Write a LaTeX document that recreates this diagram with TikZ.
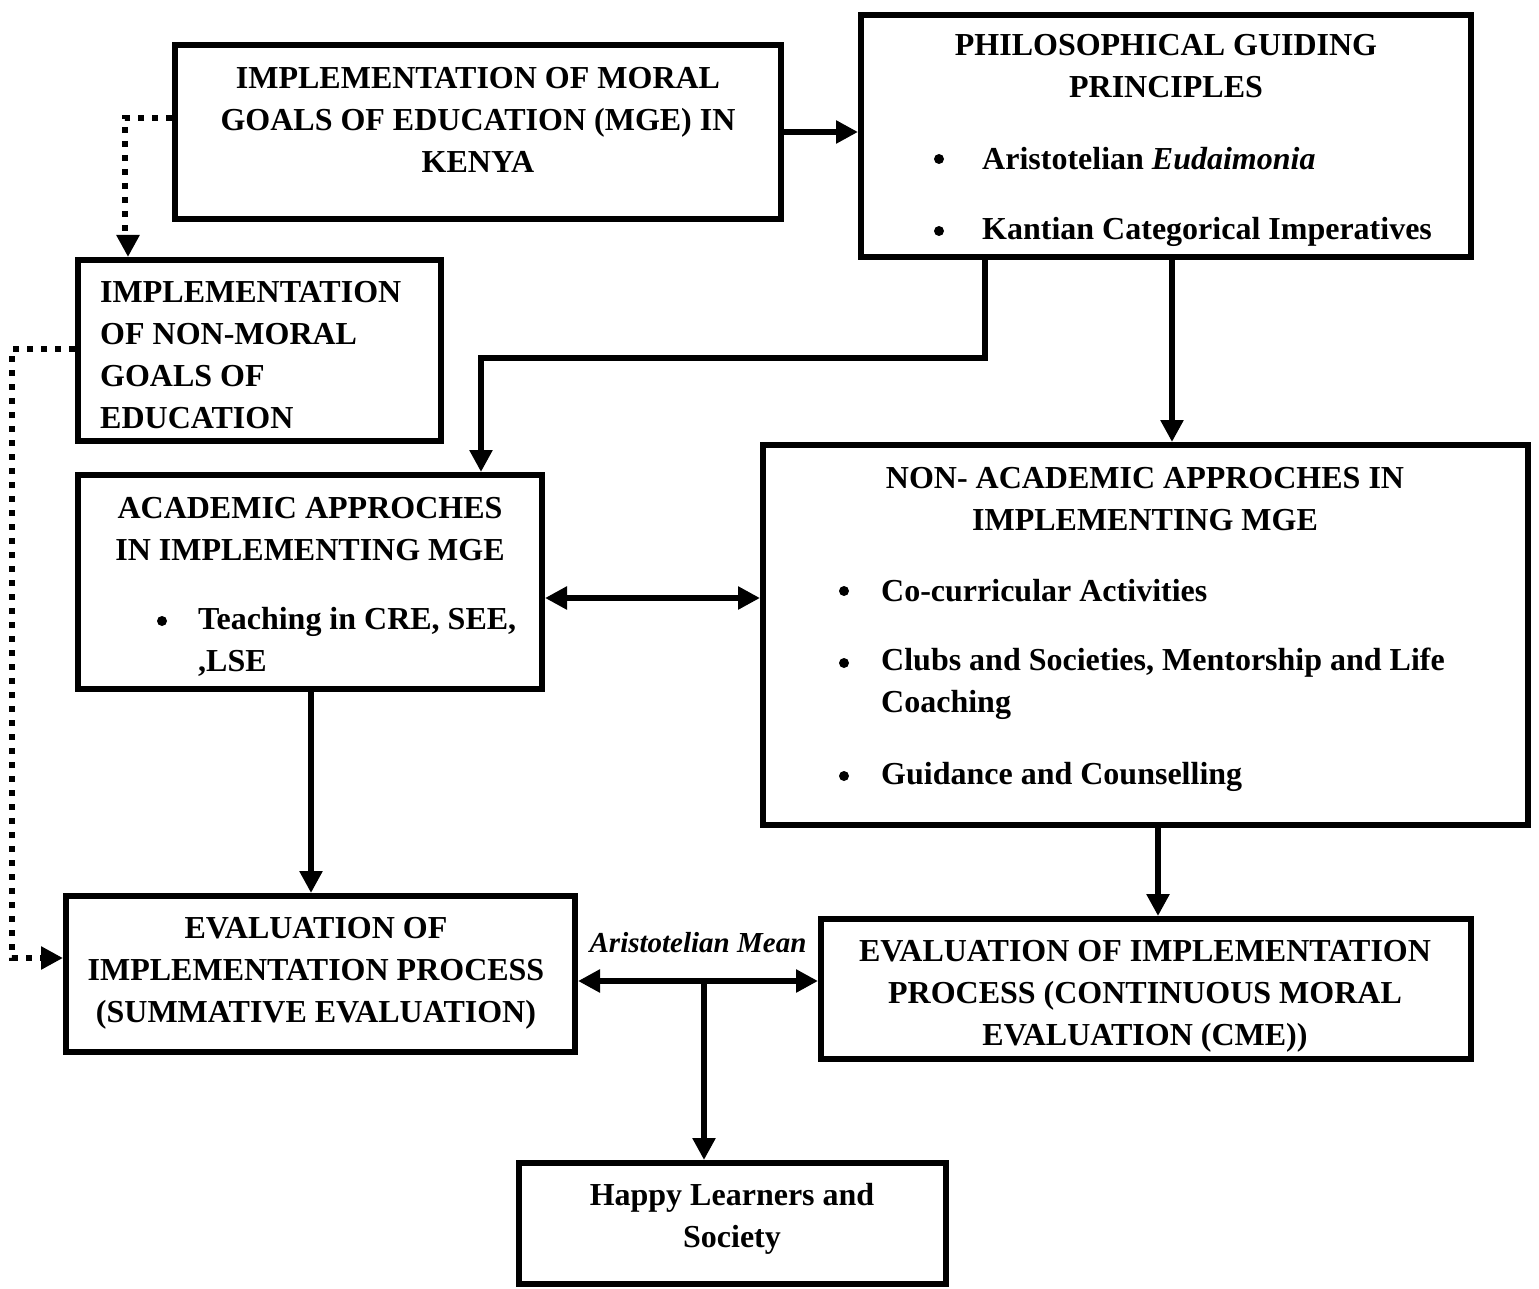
\documentclass[tikz,border=0pt]{standalone}
\usepackage{fontspec}
\setmainfont{Liberation Serif}
\usetikzlibrary{arrows.meta}
\begin{document}
\begin{tikzpicture}[x=1pt,y=-1pt,
  box/.style={draw, line width=6pt, inner sep=0pt, rectangle},
  txt/.style={font=\fontsize{32}{42}\selectfont\bfseries, align=center, inner sep=0pt},
  ltxt/.style={font=\fontsize{32}{42}\selectfont\bfseries, align=left, anchor=west, inner sep=0pt},
  bul/.style={circle, fill, inner sep=0pt, minimum size=10pt},
  conn/.style={line width=6pt},
  arr/.style={conn, -{Triangle[length=22pt,width=22pt]}},
  darr/.style={conn, {Triangle[length=22pt,width=22pt]}-{Triangle[length=22pt,width=22pt]}},
  dotline/.style={line width=6pt, dash pattern=on 6pt off 8pt},
]
\useasboundingbox (0,0) rectangle (1539,1289);
\fill[white] (0,0) rectangle (1539,1289);

% boxes
\node[box, minimum width=606pt, minimum height=174pt] (mge) at (478,132) {};
\node[box, minimum width=610pt, minimum height=242pt] (phil) at (1166,136) {};
\node[box, minimum width=363pt, minimum height=181pt] (nonmoral) at (259.5,350.5) {};
\node[box, minimum width=464pt, minimum height=214pt] (acad) at (310,582) {};
\node[box, minimum width=765pt, minimum height=380pt] (nonacad) at (1145.5,635) {};
\node[box, minimum width=509pt, minimum height=156pt] (evalS) at (320.5,974) {};
\node[box, minimum width=650pt, minimum height=140pt] (cme) at (1146,989) {};
\node[box, minimum width=427pt, minimum height=121pt] (happy) at (732.5,1223.5) {};

% texts
\node[txt] (t1) at (478,120) {IMPLEMENTATION OF MORAL\\GOALS OF EDUCATION (MGE) IN\\KENYA};
\node[txt] (t2) at (1166,66) {PHILOSOPHICAL GUIDING\\PRINCIPLES};
\node[bul] (b21) at (939,159) {};
\node[ltxt] (t21) at (982,159) {Aristotelian \textit{Eudaimonia}};
\node[bul] (b22) at (939,231) {};
\node[ltxt] (t22) at (982,232) {Kantian Categorical Imperatives};
\node[ltxt] (t3) at (100,355) {IMPLEMENTATION\\OF NON-MORAL\\GOALS OF\\EDUCATION};
\node[txt] (t4) at (310,529) {ACADEMIC APPROCHES\\IN IMPLEMENTING MGE};
\node[bul] (b41) at (162,621) {};
\node[ltxt] (t41) at (198,642) {Teaching in CRE, SEE,\\,LSE};
\node[txt] (t5) at (1145,499) {NON- ACADEMIC APPROCHES IN\\IMPLEMENTING MGE};
\node[bul] (b51) at (844,591) {};
\node[ltxt] (t51) at (881,591) {Co-curricular Activities};
\node[bul] (b52) at (844,663) {};
\node[ltxt] (t52) at (881,684) {Clubs and Societies, Mentorship and Life\\Coaching};
\node[bul] (b53) at (844,776) {};
\node[ltxt] (t53) at (881,777) {Guidance and Counselling};
\node[txt] (t6) at (316,973) {EVALUATION OF\\IMPLEMENTATION PROCESS\\(SUMMATIVE EVALUATION)};
\node[txt] (t7) at (1145,996) {EVALUATION OF IMPLEMENTATION\\PROCESS (CONTINUOUS MORAL\\EVALUATION (CME))};
\node[txt] (t8) at (732,1219) {Happy Learners and\\Society};
\node[txt, font=\fontsize{29}{32}\selectfont\bfseries\itshape] (lbl) at (698,943) {Aristotelian Mean};

% coordinates
\coordinate (d1a) at (125,118);
\coordinate (d1b) at (128,118);
\coordinate (d2a) at (12,349);
\coordinate (d2b) at (12,958);
\coordinate (p1) at (985,358);
\coordinate (p2) at (481,358);
\coordinate (p3) at (1172,0);
\coordinate (a1) at (0,598);
\coordinate (s1) at (311,0);
\coordinate (s2) at (1158,0);
\coordinate (m) at (704,981);

% connectors
\draw[arr] (mge.east) -- (phil.west |- mge.east);
\draw[dotline] (mge.west |- d1a) -- (d1a) -- (d1a |- 0,240);
\draw[arr, dotline] (d1b |- 0,236) -- (d1b |- nonmoral.north);
\draw[dotline] (nonmoral.west |- d2a) -- (d2a) -- (d2b) -- (40,958);
\draw[arr] (40,958) -- (evalS.west |- d2b);
\draw[arr] (phil.south -| p1) -- (p1) -- (p2) -- (acad.north -| p2);
\draw[arr] (phil.south -| p3) -- (nonacad.north -| p3);
\draw[darr] (acad.east |- a1) -- (nonacad.west |- a1);
\draw[arr] (acad.south -| s1) -- (evalS.north -| s1);
\draw[arr] (nonacad.south -| s2) -- (cme.north -| s2);
\draw[darr] (evalS.east |- m) -- (cme.west |- m);
\draw[arr] (m) -- (happy.north -| m);
\end{tikzpicture}
\end{document}
